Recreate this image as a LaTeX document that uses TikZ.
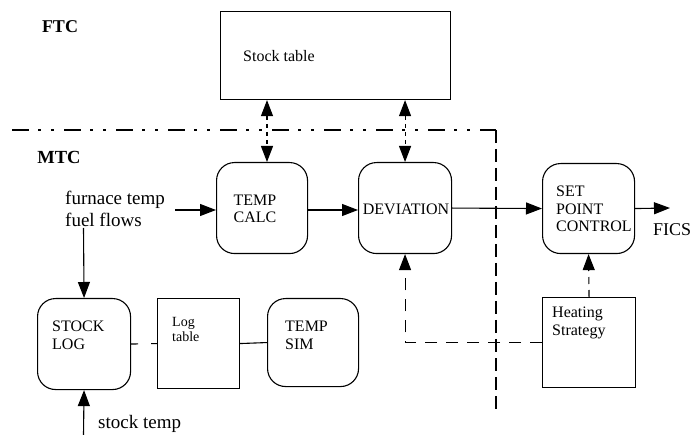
\documentclass[tikz,border=0pt]{standalone}
\usepackage{fontspec}
\setmainfont{Liberation Serif}
\usetikzlibrary{arrows.meta}
\begin{document}
\begin{tikzpicture}[x=1pt,y=-1pt,
  lw/.style={line width=1.1pt},
  box/.style={draw, lw, inner sep=0pt, anchor=north west},
  rbox/.style={box, rounded corners=18pt},
  txt/.style={inner sep=0pt, anchor=north west, align=left, font=\fontsize{16}{17.5}\selectfont},
  arr/.style={lw, -{Triangle[length=16pt,width=12pt]}},
  dblarr/.style={lw, {Triangle[length=16pt,width=12pt]}-{Triangle[length=16pt,width=12pt]}, dash pattern=on 4pt off 4pt},
  dasharr/.style={arr, dash pattern=on 12pt off 9pt},
]
\useasboundingbox (0,0) rectangle (693,435);
\fill[white] (0,0) rectangle (693,435);

% boundary between FTC and MTC
\coordinate (bl) at (12,130);
\coordinate (bc) at (496,130);
\coordinate (bb) at (496,410);
\draw[lw, dash pattern=on 17pt off 9pt on 3pt off 10pt on 3pt off 10pt] (bl) -- (bc);
\draw[lw, dash pattern=on 13pt off 6pt] (bc) -- (bb);

\node[inner sep=0pt, font=\fontsize{18}{20}\selectfont\bfseries] (ftc) at (60,27) {FTC};
\node[inner sep=0pt, font=\fontsize{18.5}{20}\selectfont\bfseries] (mtc) at (59,157) {MTC};

% boxes
\node[box, minimum width=230pt, minimum height=88pt] (stock) at (220,11) {};
\node[txt] (stockt) at (243,50) {Stock table};

\node[rbox, minimum width=91pt, minimum height=91pt] (tcalc) at (216,162) {};
\node[txt, anchor=center, align=center] (tcalct) at (255,209) {TEMP\\CALC};

\node[rbox, minimum width=93pt, minimum height=91pt] (dev) at (358,162) {};
\node[txt, anchor=center] (devt) at (406,209) {DEVIATION};

\node[rbox, minimum width=92pt, minimum height=90pt] (spc) at (542,163) {};
\node[txt] (spct) at (556,186) {SET\\POINT\\CONTROL};

\node[rbox, minimum width=93pt, minimum height=91pt] (slog) at (37,298) {};
\node[txt] (slogt) at (52,321) {STOCK\\LOG};

\node[box, minimum width=82pt, minimum height=90pt] (logt) at (157,298) {};
\node[txt, font=\fontsize{14}{15}\selectfont] (logtt) at (172,317) {Log\\table};

\node[rbox, minimum width=91pt, minimum height=88pt] (tsim) at (267,298) {};
\node[txt] (tsimt) at (285,321) {TEMP\\SIM};

\node[box, minimum width=93pt, minimum height=90pt] (heat) at (542,297) {};
\node[txt] (heatt) at (552,307) {Heating\\Strategy};

% free texts
\node[txt, font=\fontsize{19}{22}\selectfont, align=left] (fin) at (65,191) {furnace temp\\fuel flows};
\node[txt, font=\fontsize{19}{22}\selectfont] (stemp) at (98,415) {stock temp};
\node[txt, font=\fontsize{18}{20}\selectfont] (fics) at (653,223) {FICS};

% connectors
\coordinate (inx) at (175,210);
\coordinate (tcx) at (267,0);
\coordinate (ficsend) at (670,208);
\coordinate (fuelx) at (83.5,228);
\coordinate (stx) at (83.5,435);

\draw[dblarr] (stock.south -| tcx) -- (tcalc.north -| tcx);
\draw[dblarr] (stock.south -| dev.north) -- (dev.north);
\draw[arr] (inx) -- (inx -| tcalc.west);
\draw[arr] (tcalc.east |- inx) -- (dev.west |- inx);
\draw[arr] (dev.east) -- (spc.west);
\draw[arr] (spc.east) -- (ficsend);
\draw[arr] (fuelx) -- (slog.north);
\draw[arr] (stx) -- (slog.south);
\draw[lw, dash pattern=on 7pt off 13pt] (slog.east) -- (logt.west);
\draw[lw] (logt.east) -- (tsim.west);
\draw[arr, dash pattern=on 7pt off 6pt] (heat.north) -- (spc.south);
\draw[dasharr] (heat.west) -| (dev.south);
\end{tikzpicture}
\end{document}
